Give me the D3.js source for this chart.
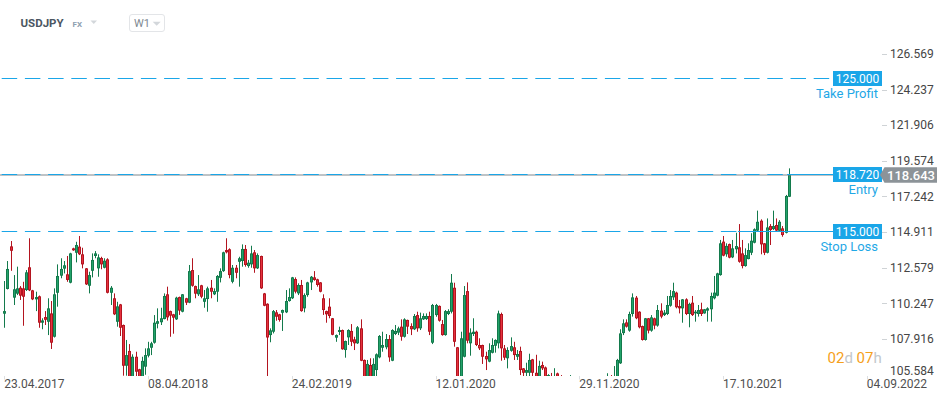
<!DOCTYPE html>
<html><head><meta charset="utf-8">
<script src="https://cdn.jsdelivr.net/npm/d3@7"></script>
<style>body{margin:0;background:#fff}svg{display:block;font-family:Roboto,"Open Sans",sans-serif}</style>
</head><body><svg id="c" width="950" height="402"></svg>
<script>
const symbol = "USDJPY", market = "FX", interval = "W1";
const dateLabels = ["23.04.2017","08.04.2018","24.02.2019","12.01.2020","29.11.2020","17.10.2021","04.09.2022"];
const dateIdx = [0,46,92,138,184,230,276];
const priceTicks = [126.569,124.237,121.906,119.574,117.242,114.911,112.579,110.247,107.916,105.584];

const open = [
109.56,111.18,113.97,110.61,110.87,111.26,111.22,111.11,112.60,111.09,
110.50,110.70,108.97,109.34,109.03,109.58,108.05,110.93,112.05,112.51,
112.14,111.59,113.84,113.55,113.95,113.45,112.53,111.39,112.37,113.34,
112.53,113.21,112.57,113.12,110.93,110.57,109.03,110.17,108.82,106.15,
107.12,105.30,106.74,105.92,105.30,106.09,106.81,107.33,107.66,108.90,
109.00,109.21,110.83,109.73,109.52,109.19,110.65,109.69,110.57,110.28,
112.42,111.37,110.83,111.42,110.34,110.52,111.26,110.83,111.00,111.91,
112.35,113.73,113.78,111.65,112.57,112.96,113.01,113.80,112.68,112.79,
113.58,112.53,113.34,110.89,110.21,108.16,108.38,109.65,109.52,109.62,
109.65,110.39,110.57,111.83,110.89,111.44,109.91,110.78,111.61,111.94,
111.81,111.61,110.57,109.73,110.02,109.26,107.99,108.36,108.49,107.18,
108.01,108.43,107.88,107.62,108.60,106.53,105.30,106.20,105.40,105.87,
106.70,107.33,107.36,107.90,106.48,108.23,108.32,108.71,108.05,109.15,
108.75,108.54,109.47,108.60,109.19,109.21,109.41,107.66,109.47,110.07,
108.88,108.16,109.54,109.69,111.26,107.36,105.00,106.74,111.04,107.62,
108.23,108.38,107.51,107.51,106.79,106.42,107.00,107.46,107.62,109.54,
107.29,106.64,107.13,107.36,106.74,107.12,105.98,105.69,105.69,106.57,
105.69,105.30,106.20,106.04,104.90,105.40,104.60,105.65,104.80,104.50,
104.00,103.70,104.60,104.20,103.90,104.10,103.60,103.30,103.60,103.20,
103.90,103.80,103.90,104.70,105.30,104.90,105.20,106.31,108.29,108.99,
108.45,109.54,110.61,109.69,108.75,107.84,109.26,108.45,109.26,108.78,
109.76,109.47,109.54,110.08,110.63,110.94,110.06,109.91,110.50,109.54,
110.28,109.58,109.54,109.85,109.58,109.76,109.85,110.57,110.74,112.09,
114.28,113.45,114.12,113.25,113.78,113.91,113.51,112.68,113.14,113.55,
114.21,115.00,115.65,114.17,113.55,115.30,115.10,115.37,114.99,115.15,
114.86,117.22];

const high = [
111.70,113.01,114.32,112.09,112.64,111.37,111.65,112.42,114.50,111.12,
111.00,110.75,109.26,109.73,110.57,110.39,111.22,112.79,113.19,113.01,
113.34,113.55,113.88,114.27,114.65,113.88,112.55,112.31,113.51,113.66,
113.45,113.29,113.19,113.19,111.37,110.89,110.34,110.20,108.85,107.84,
107.57,106.90,107.07,105.95,106.74,107.29,107.72,107.72,109.47,109.91,
109.95,110.89,111.33,109.76,109.55,110.67,110.68,110.85,110.60,112.75,
113.19,111.40,112.09,111.45,111.11,111.33,111.77,111.22,112.09,112.53,
113.62,114.50,113.84,112.75,112.75,113.29,114.10,114.06,113.08,114.01,
113.73,113.51,113.36,110.92,110.24,108.60,109.80,109.80,109.55,109.83,
111.11,111.22,111.97,111.94,111.55,111.77,110.89,111.65,112.03,112.35,
111.85,111.63,110.83,109.76,110.57,109.28,108.20,108.71,108.52,107.80,
108.54,108.88,108.05,108.75,109.19,106.56,106.53,106.64,106.64,106.96,
108.16,108.38,108.23,108.16,108.54,108.82,108.71,109.19,109.26,109.17,
108.93,109.54,109.69,109.63,109.58,109.58,109.69,110.20,110.20,110.10,
109.15,109.80,109.85,112.16,111.59,107.38,108.38,111.37,111.61,108.60,
109.26,108.45,107.95,107.53,107.07,107.62,107.95,107.88,109.76,109.63,
107.51,107.36,108.01,107.72,107.18,107.40,106.00,106.35,106.94,106.60,
106.87,106.48,106.42,106.10,105.60,105.68,105.99,105.70,105.54,105.00,
104.90,105.54,105.10,104.60,104.50,104.40,104.00,103.80,104.10,104.20,
104.40,104.10,104.90,105.66,105.54,106.13,106.60,108.54,109.19,109.19,
109.69,110.89,110.72,109.72,108.78,109.28,109.28,109.47,109.30,110.13,
110.24,109.80,110.72,111.11,111.59,111.00,110.46,110.52,110.57,110.28,
110.72,109.80,110.13,110.28,109.87,109.98,110.94,112.03,112.24,114.39,
114.65,114.17,114.15,114.39,114.86,115.43,114.39,113.84,114.17,114.83,
115.15,116.31,115.74,114.19,115.80,115.43,116.31,115.80,115.69,115.30,
117.34,119.08];

const low = [
108.64,111.15,112.37,110.13,110.78,110.46,108.77,111.05,111.04,110.45,
109.73,108.64,108.54,108.82,108.16,107.25,108.00,110.02,111.88,112.20,
111.65,111.55,113.68,112.92,113.40,112.53,111.44,110.89,111.94,113.19,
111.98,112.47,112.53,110.89,110.13,109.47,108.71,108.10,105.50,105.50,
104.90,105.00,105.40,105.20,105.10,105.56,106.70,106.85,107.60,108.60,
108.82,109.19,109.11,108.05,108.25,109.15,109.48,109.65,110.13,110.25,
111.33,110.57,110.72,110.57,109.95,109.69,110.57,110.78,110.34,111.61,
112.30,113.51,111.88,111.55,111.88,111.33,112.64,112.64,112.57,112.57,
112.24,112.49,111.18,110.05,104.87,107.69,108.27,109.10,109.04,108.43,
109.60,110.35,110.52,110.89,110.78,109.69,109.65,110.67,111.11,111.72,
111.33,110.96,109.48,108.97,109.26,108.15,107.72,108.16,107.20,106.68,
107.51,107.44,107.18,107.58,106.45,104.90,105.10,105.20,105.20,105.48,
106.64,107.07,107.23,106.41,106.45,108.16,108.16,107.79,108.00,108.23,
108.16,108.49,108.38,108.49,109.15,109.15,108.16,107.57,109.36,109.04,
108.12,108.12,109.47,109.58,107.40,101.20,104.00,106.70,107.62,106.81,
108.10,107.44,107.18,106.27,105.87,106.38,106.96,107.01,107.29,106.48,
106.53,105.98,107.07,106.53,106.53,105.54,105.30,105.30,105.40,105.30,
104.90,105.20,105.87,105.00,104.70,104.20,104.40,104.50,104.20,103.60,
103.20,103.50,103.90,103.20,103.60,103.30,102.90,103.00,102.60,103.00,
103.50,103.50,103.60,104.40,104.60,104.80,105.00,106.27,108.16,108.65,
108.38,109.37,109.20,108.60,107.80,107.80,108.27,108.38,108.54,108.71,
109.26,109.41,109.47,110.02,110.46,109.91,109.58,108.97,109.47,108.67,
109.41,109.04,109.37,109.41,109.56,109.04,109.04,110.50,110.70,112.05,
113.32,113.29,113.19,113.20,113.51,112.90,112.53,112.64,113.12,113.40,
114.17,114.97,113.45,113.40,113.51,114.06,115.04,114.93,114.93,114.60,
114.82,117.20];

const close = [
109.73,112.49,113.68,111.16,111.22,110.74,110.67,112.27,111.09,110.50,
110.65,108.97,109.12,109.16,109.91,107.66,110.83,112.03,112.49,112.73,
111.77,113.51,113.71,114.06,113.45,112.79,111.48,112.09,113.08,113.51,
113.25,112.79,113.03,110.93,111.26,109.52,110.04,108.64,106.15,106.85,
105.20,106.74,105.76,105.40,106.47,106.85,107.29,107.62,108.97,109.07,
109.26,110.72,109.32,109.43,109.30,110.61,109.76,110.83,110.28,112.35,
111.39,110.87,111.16,110.67,110.57,111.22,111.00,111.04,112.03,112.35,
113.58,113.58,112.09,112.57,112.24,113.19,113.80,112.75,112.90,113.51,
112.53,113.40,111.22,110.08,108.00,108.47,109.73,109.36,109.15,109.80,
110.39,110.65,111.94,111.00,111.44,109.73,110.78,111.61,111.98,111.77,
111.44,111.00,109.80,109.52,109.41,108.18,108.16,108.49,107.23,107.77,
108.49,107.72,107.62,108.67,106.48,105.30,106.27,105.40,106.27,106.90,
108.10,107.51,107.90,106.70,108.49,108.43,108.60,108.05,109.19,108.71,
108.54,109.41,108.60,109.26,109.41,109.41,108.38,110.13,110.13,109.10,
108.16,109.73,109.73,111.59,107.72,105.00,107.95,110.78,107.79,108.32,
108.38,107.51,107.29,106.74,106.57,107.18,107.51,107.84,109.58,107.29,
106.68,107.18,107.44,106.85,106.92,105.87,105.69,105.87,106.53,105.69,
105.30,106.14,105.98,105.20,105.54,104.60,105.30,104.80,104.50,104.00,
103.70,104.60,104.20,103.90,104.10,103.60,103.30,103.60,103.20,103.90,
103.80,103.90,104.70,105.30,104.90,105.40,106.53,108.27,108.93,108.71,
109.54,110.63,109.26,108.67,107.84,109.26,108.45,109.32,108.78,109.80,
109.37,109.63,110.13,110.72,111.04,109.98,109.91,110.50,109.54,110.20,
109.47,109.69,109.80,109.54,109.85,109.91,110.72,110.94,112.20,114.17,
113.36,114.00,113.23,113.84,113.99,112.96,112.68,113.40,113.73,114.34,
115.09,115.58,114.10,113.55,115.21,115.04,115.30,115.00,115.58,114.71,
117.27,118.643];

const levelNames = ["Take Profit","Entry","Stop Loss"];
const levelValues = [125.000,118.720,115.000];
const levelSolidFrom = [null,250.5,234.8];
const lastPrice = 118.643;
const timerParts = ["02","d"," 07","h"];

const svg = d3.select("#c");
const x = d3.scaleLinear().domain([0,276]).range([4.3,866.8]);
const y = d3.scaleLinear().domain([105.584,126.569]).range([374.4,54]);

const BLUE = "#1aa6e8";
const data = open.map((o,i)=>({i,o,h:high[i],l:low[i],c:close[i]}));

// clip
svg.append("defs").append("clipPath").attr("id","plot")
  .append("rect").attr("x",0).attr("y",40).attr("width",880).attr("height",336);

// header
svg.append("text").attr("x",20.5).attr("y",27.3).attr("font-size",11.5).attr("font-weight",700)
  .attr("fill","#4b5662").text(symbol);
svg.append("text").attr("x",72.5).attr("y",26.7).attr("font-size",8).attr("font-weight",700)
  .attr("fill","#8ea0b0").text(market);
svg.append("path").attr("d","M90.5,20.5 L97,20.5 L93.75,24 Z").attr("fill","#d3d7db");
svg.append("rect").attr("x",129.5).attr("y",14.5).attr("width",35).attr("height",17).attr("rx",2.5)
  .attr("fill","#fff").attr("stroke","#e3e5e8");
svg.append("text").attr("x",134).attr("y",27).attr("font-size",11).attr("fill","#7d8790").text(interval);
svg.append("path").attr("d","M152.7,21.7 L160.7,21.7 L156.7,25.7 Z").attr("fill","#d3d7db");

// candles
const g = svg.append("g").attr("clip-path","url(#plot)");
const cg = g.selectAll("g.c").data(data).join("g").attr("class","c");
const up = d => d.c >= d.o;
const xi = d => Math.round(x(d.i));
cg.append("rect")
  .attr("x", d => xi(d)).attr("width",1)
  .attr("y", d => y(d.h)).attr("height", d => Math.max(1, y(d.l)-y(d.h)))
  .attr("fill", d => up(d) ? "#137a4c" : "#b3141f");
cg.append("rect")
  .attr("x", d => xi(d)-1).attr("width",3)
  .attr("y", d => Math.min(y(d.o),y(d.c))).attr("height", d => Math.max(1, Math.abs(y(d.o)-y(d.c))))
  .attr("fill", d => up(d) ? "#137a4c" : "#b3141f");
cg.filter(d => Math.abs(y(d.o)-y(d.c)) > 2.5).append("rect")
  .attr("x", d => xi(d)).attr("width",1)
  .attr("y", d => Math.min(y(d.o),y(d.c))+1).attr("height", d => Math.abs(y(d.o)-y(d.c))-2)
  .attr("fill", d => up(d) ? "#23a36b" : "#e6323f");

// current price line
svg.append("line").attr("x1",0).attr("x2",880).attr("y1",y(lastPrice)).attr("y2",y(lastPrice))
  .attr("stroke","#7f878d").attr("stroke-width",1);

// level lines
levelValues.forEach((v,k)=>{
  const yy = Math.round(y(v)) + 0.5;
  const solidX = levelSolidFrom[k] === null ? 833 : x(levelSolidFrom[k]);
  svg.append("line").attr("x1",1.7).attr("x2",solidX).attr("y1",yy).attr("y2",yy)
    .attr("stroke",BLUE).attr("stroke-width",1).attr("stroke-dasharray","15.5,7.7");
  if (levelSolidFrom[k] !== null) {
    svg.append("line").attr("x1",solidX).attr("x2",833).attr("y1",yy).attr("y2",yy)
      .attr("stroke",BLUE).attr("stroke-width",1);
  }
  svg.append("rect").attr("x",833).attr("y",yy-7.5).attr("width",49).attr("height",15).attr("fill",BLUE);
  svg.append("text").attr("x",857.5).attr("y",yy+4.2).attr("text-anchor","middle")
    .attr("font-size",12).attr("fill","#fff").text(v.toFixed(3));
  svg.append("text").attr("x",878).attr("y",yy+19.5).attr("text-anchor","end")
    .attr("font-size",13).attr("fill","#1fa8e6").text(levelNames[k]);
});

// price axis
priceTicks.forEach(t=>{
  const ty = y(t);
  const ly = Math.min(ty, 371);
  if (ty < 372) {
    svg.append("line").attr("x1",882).attr("x2",887).attr("y1",Math.round(ty)+0.5).attr("y2",Math.round(ty)+0.5)
      .attr("stroke","#cfd3d6");
  }
  svg.append("text").attr("x",890).attr("y",ly+4.3).attr("font-size",12).attr("fill","#454545")
    .text(t.toFixed(3));
});

// last price label
const cy = y(lastPrice);
svg.append("path")
  .attr("d",`M880,${cy} L884.5,${cy-7.8} L937,${cy-7.8} L937,${cy+7.8} L884.5,${cy+7.8} Z`)
  .attr("fill","#8c9398");
svg.append("text").attr("x",911).attr("y",cy+4.6).attr("text-anchor","middle")
  .attr("font-size",13).attr("font-weight",500).attr("fill","#fff").text(lastPrice.toFixed(3));

// date axis
dateIdx.forEach((di,k)=>{
  const tx = Math.round(x(di)) + 0.5;
  svg.append("line").attr("x1",tx).attr("x2",tx).attr("y1",376).attr("y2",379.5).attr("stroke","#dcdfe2");
  svg.append("text").attr("x",x(di)).attr("y",388.3).attr("font-size",12).attr("fill","#4f4f4f")
    .text(dateLabels[k]);
});

// timer
const tt = svg.append("text").attr("x",827.5).attr("y",362.5).attr("font-size",15);
timerParts.forEach((p,k)=>{
  tt.append("tspan").attr("fill", k%2===0 ? "#f6a01a" : "#c3c7cb").attr("xml:space","preserve").text(p);
});
</script></body></html>
